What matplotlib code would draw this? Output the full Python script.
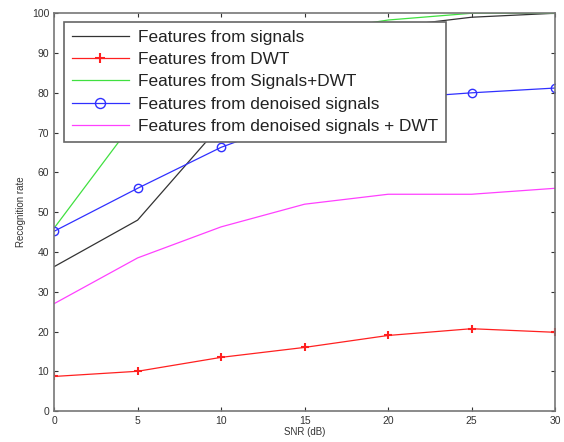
import matplotlib.pyplot as plt

snr = [0, 5, 10, 15, 20, 25, 30]
signals = [36.3, 48.0, 72.0, 86.0, 96.5, 99.0, 100.0]
dwt = [8.7, 10.0, 13.5, 16.0, 19.0, 20.7, 19.8]
signals_dwt = [46.0, 74.0, 88.0, 95.0, 98.3, 100.0, 100.0]
denoised = [45.2, 56.0, 66.3, 74.0, 78.5, 80.0, 81.2]
denoised_dwt = [27.0, 38.5, 46.3, 52.0, 54.5, 54.5, 56.0]

plt.rcParams['font.family'] = ['Liberation Sans', 'DejaVu Sans']

fig = plt.figure(figsize=(5.64, 4.42), dpi=100)
ax = fig.add_axes([0.096, 0.07, 0.888, 0.9])

ax.plot(snr, signals, '-', color='#333333', lw=0.9, label='Features from signals')
ax.plot(snr, dwt, '-+', color='#ff2020', lw=0.9, ms=6, mew=1.5, label='Features from DWT')
ax.plot(snr, signals_dwt, '-', color='#40e040', lw=0.9, label='Features from Signals+DWT')
ax.plot(snr, denoised, '-o', color='#3030ff', lw=0.9, ms=6, mfc='none', label='Features from denoised signals')
ax.plot(snr, denoised_dwt, '-', color='#ff40ff', lw=0.9, label='Features from denoised signals + DWT')

ax.set_xlim(0, 30)
ax.set_ylim(0, 100)
ax.set_xticks(snr)
ax.set_yticks(range(0, 101, 10))
ax.tick_params(labelsize=7.5, direction='in', length=3, width=0.8, colors='#333333')
ax.tick_params(top=True, right=True)
for s in ax.spines.values():
    s.set_color('#777777')
    s.set_linewidth(1.2)
ax.set_xlabel('SNR (dB)', fontsize=7, labelpad=1, color='#333333')
ax.set_ylabel('Recognition rate', fontsize=7, labelpad=4, color='#333333')

leg = ax.legend(loc='upper left', bbox_to_anchor=(0.02, 0.978), fontsize=12.4, frameon=True,
                fancybox=False, framealpha=1, borderpad=0.45, labelspacing=0.42,
                handlelength=3.3, handletextpad=0.55, borderaxespad=0, markerscale=1.2)
leg.get_frame().set_edgecolor('#666666')
leg.get_frame().set_linewidth(1.2)
for t in leg.get_texts():
    t.set_color('#222222')

fig.savefig('out.png', dpi=100)
